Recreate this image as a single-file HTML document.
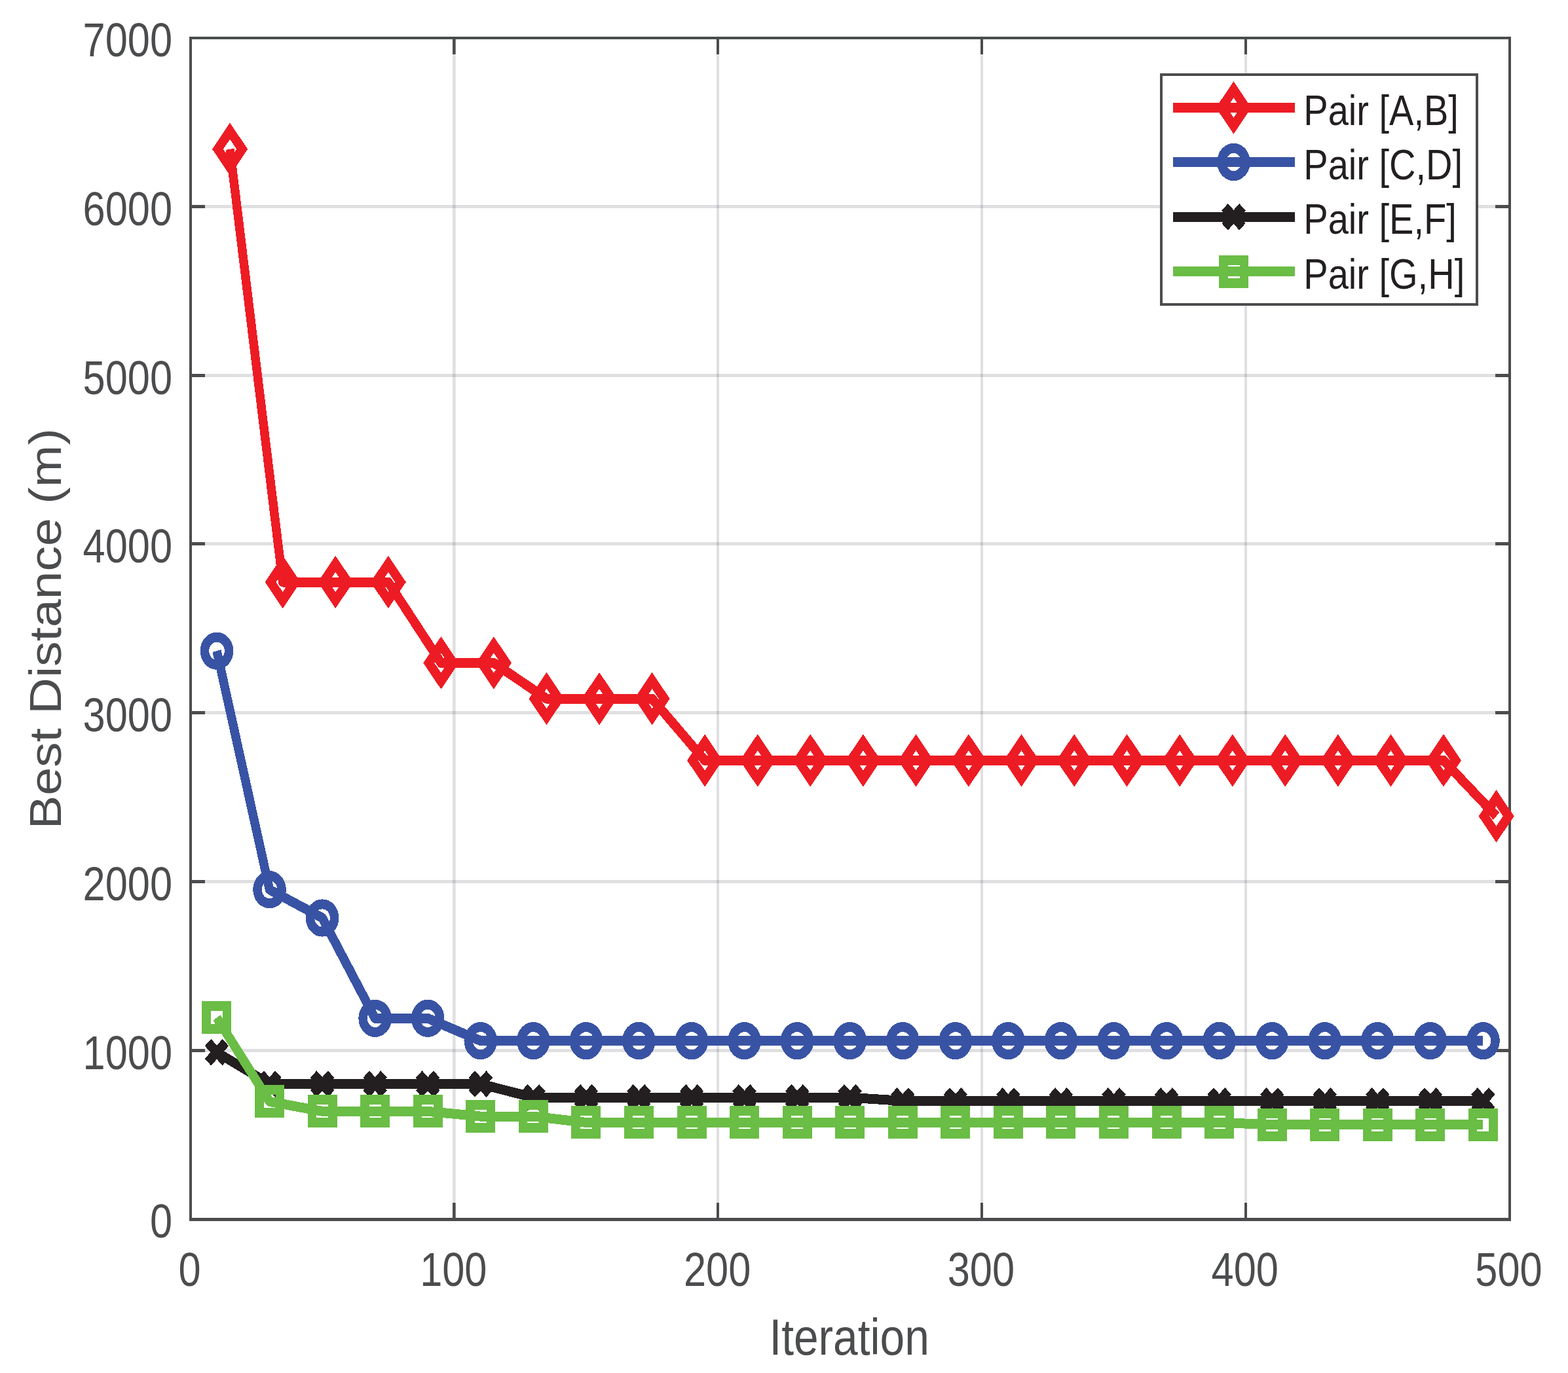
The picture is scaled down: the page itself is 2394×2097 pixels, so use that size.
<!DOCTYPE html>
<html lang="en"><head><meta charset="utf-8"><title>Best Distance vs Iteration</title>
<style>html,body{margin:0;padding:0;background:#fff;}body{width:2394px;height:2097px;overflow:hidden;}svg{display:block;}text{font-family:"Liberation Sans",sans-serif;}</style></head><body>
<svg width="2394" height="2097" viewBox="0 0 2394 2097" role="img" aria-label="Best distance versus iteration for four pairs">
<rect width="2394" height="2097" fill="#fff"/>
<path d="M691 60H695.6V1860H691ZM1094 60H1098V1860H1094ZM1497 60H1501V1860H1497ZM1900 60H1904V1860H1900Z" fill="#4d525c" fill-opacity="0.175"/>
<path d="M293 1602H2303V1606.9H293ZM293 1344H2303V1348.9H293ZM293 1086H2303V1090.9H293ZM293 828H2303V832.9H293ZM293 571H2303V575.9H293ZM293 313H2303V317.9H293Z" fill="#4d525c" fill-opacity="0.175"/>
<path d="M691 1837H695.6V1860H691ZM691 60H695.6V83H691ZM1094 1837H1098V1860H1094ZM1094 60H1098V83H1094ZM1497 1837H1501V1860H1497ZM1497 60H1501V83H1497ZM1900 1837H1904V1860H1900ZM1900 60H1904V83H1900ZM293 1602H313V1606.9H293ZM2283 1602H2303V1606.9H2283ZM293 1344H313V1348.9H293ZM2283 1344H2303V1348.9H2283ZM293 1086H313V1090.9H293ZM2283 1086H2303V1090.9H2283ZM293 828H313V832.9H293ZM2283 828H2303V832.9H2283ZM293 571H313V575.9H293ZM2283 571H2303V575.9H2283ZM293 313H313V317.9H293ZM2283 313H2303V317.9H2283ZM289 56H2307V60H289ZM289 1860H2307V1864.9H289ZM289 56H293V1864.9H289ZM2303 56H2307V1864.9H2303Z" fill="#4b4c4e"/>
<g transform="scale(0.9 1)" fill="none" stroke-width="15" stroke-miterlimit="10" shape-rendering="crispEdges">
<g stroke="#ed1c24"><polyline points="390.13,227.83 479.64,889.01 569.16,889.01 658.67,889.01 748.18,1012.49 837.69,1012.49 927.2,1067.13 1016.71,1067.13 1106.22,1067.13 1195.73,1161.48 1285.24,1161.48 1374.76,1161.48 1464.27,1161.48 1553.78,1161.48 1643.29,1161.48 1732.8,1161.48 1822.31,1161.48 1911.82,1161.48 2001.33,1161.48 2090.84,1161.48 2180.36,1161.48 2269.87,1161.48 2359.38,1161.48 2448.89,1161.48 2538.4,1246.54" stroke-linejoin="round"/><path d="M390.13 200.13L410.83 227.83L390.13 255.53L369.43 227.83ZM479.64 861.31L500.34 889.01L479.64 916.71L458.94 889.01ZM569.16 861.31L589.86 889.01L569.16 916.71L548.46 889.01ZM658.67 861.31L679.37 889.01L658.67 916.71L637.97 889.01ZM748.18 984.79L768.88 1012.49L748.18 1040.19L727.48 1012.49ZM837.69 984.79L858.39 1012.49L837.69 1040.19L816.99 1012.49ZM927.2 1039.43L947.9 1067.13L927.2 1094.83L906.5 1067.13ZM1016.71 1039.43L1037.41 1067.13L1016.71 1094.83L996.01 1067.13ZM1106.22 1039.43L1126.92 1067.13L1106.22 1094.83L1085.52 1067.13ZM1195.73 1133.78L1216.43 1161.48L1195.73 1189.18L1175.03 1161.48ZM1285.24 1133.78L1305.94 1161.48L1285.24 1189.18L1264.54 1161.48ZM1374.76 1133.78L1395.46 1161.48L1374.76 1189.18L1354.06 1161.48ZM1464.27 1133.78L1484.97 1161.48L1464.27 1189.18L1443.57 1161.48ZM1553.78 1133.78L1574.48 1161.48L1553.78 1189.18L1533.08 1161.48ZM1643.29 1133.78L1663.99 1161.48L1643.29 1189.18L1622.59 1161.48ZM1732.8 1133.78L1753.5 1161.48L1732.8 1189.18L1712.1 1161.48ZM1822.31 1133.78L1843.01 1161.48L1822.31 1189.18L1801.61 1161.48ZM1911.82 1133.78L1932.52 1161.48L1911.82 1189.18L1891.12 1161.48ZM2001.33 1133.78L2022.03 1161.48L2001.33 1189.18L1980.63 1161.48ZM2090.84 1133.78L2111.54 1161.48L2090.84 1189.18L2070.14 1161.48ZM2180.36 1133.78L2201.06 1161.48L2180.36 1189.18L2159.66 1161.48ZM2269.87 1133.78L2290.57 1161.48L2269.87 1189.18L2249.17 1161.48ZM2359.38 1133.78L2380.08 1161.48L2359.38 1189.18L2338.68 1161.48ZM2448.89 1133.78L2469.59 1161.48L2448.89 1189.18L2428.19 1161.48ZM2538.4 1218.84L2559.1 1246.54L2538.4 1274.24L2517.7 1246.54Z"/></g>
<g stroke="#3953a4"><polyline points="367.76,994.18 457.27,1358.67 546.78,1401.98 636.29,1555.35 725.8,1555.35 815.31,1589.64 904.82,1589.64 994.33,1589.64 1083.84,1589.64 1173.36,1589.64 1262.87,1589.64 1352.38,1589.64 1441.89,1589.64 1531.4,1589.64 1620.91,1589.64 1710.42,1589.64 1799.93,1589.64 1889.44,1589.64 1978.96,1589.64 2068.47,1589.64 2157.98,1589.64 2247.49,1589.64 2337,1589.64 2426.51,1589.64 2516.02,1589.64" stroke-linejoin="round"/><path d="M347.16 994.18a20.6 21.1 0 1 0 41.2 0a20.6 21.1 0 1 0 -41.2 0ZM436.67 1358.67a20.6 21.1 0 1 0 41.2 0a20.6 21.1 0 1 0 -41.2 0ZM526.18 1401.98a20.6 21.1 0 1 0 41.2 0a20.6 21.1 0 1 0 -41.2 0ZM615.69 1555.35a20.6 21.1 0 1 0 41.2 0a20.6 21.1 0 1 0 -41.2 0ZM705.2 1555.35a20.6 21.1 0 1 0 41.2 0a20.6 21.1 0 1 0 -41.2 0ZM794.71 1589.64a20.6 21.1 0 1 0 41.2 0a20.6 21.1 0 1 0 -41.2 0ZM884.22 1589.64a20.6 21.1 0 1 0 41.2 0a20.6 21.1 0 1 0 -41.2 0ZM973.73 1589.64a20.6 21.1 0 1 0 41.2 0a20.6 21.1 0 1 0 -41.2 0ZM1063.24 1589.64a20.6 21.1 0 1 0 41.2 0a20.6 21.1 0 1 0 -41.2 0ZM1152.76 1589.64a20.6 21.1 0 1 0 41.2 0a20.6 21.1 0 1 0 -41.2 0ZM1242.27 1589.64a20.6 21.1 0 1 0 41.2 0a20.6 21.1 0 1 0 -41.2 0ZM1331.78 1589.64a20.6 21.1 0 1 0 41.2 0a20.6 21.1 0 1 0 -41.2 0ZM1421.29 1589.64a20.6 21.1 0 1 0 41.2 0a20.6 21.1 0 1 0 -41.2 0ZM1510.8 1589.64a20.6 21.1 0 1 0 41.2 0a20.6 21.1 0 1 0 -41.2 0ZM1600.31 1589.64a20.6 21.1 0 1 0 41.2 0a20.6 21.1 0 1 0 -41.2 0ZM1689.82 1589.64a20.6 21.1 0 1 0 41.2 0a20.6 21.1 0 1 0 -41.2 0ZM1779.33 1589.64a20.6 21.1 0 1 0 41.2 0a20.6 21.1 0 1 0 -41.2 0ZM1868.84 1589.64a20.6 21.1 0 1 0 41.2 0a20.6 21.1 0 1 0 -41.2 0ZM1958.36 1589.64a20.6 21.1 0 1 0 41.2 0a20.6 21.1 0 1 0 -41.2 0ZM2047.87 1589.64a20.6 21.1 0 1 0 41.2 0a20.6 21.1 0 1 0 -41.2 0ZM2137.38 1589.64a20.6 21.1 0 1 0 41.2 0a20.6 21.1 0 1 0 -41.2 0ZM2226.89 1589.64a20.6 21.1 0 1 0 41.2 0a20.6 21.1 0 1 0 -41.2 0ZM2316.4 1589.64a20.6 21.1 0 1 0 41.2 0a20.6 21.1 0 1 0 -41.2 0ZM2405.91 1589.64a20.6 21.1 0 1 0 41.2 0a20.6 21.1 0 1 0 -41.2 0ZM2495.42 1589.64a20.6 21.1 0 1 0 41.2 0a20.6 21.1 0 1 0 -41.2 0Z"/></g>
<g stroke="#231f20"><polyline points="367.76,1607.16 457.27,1655.63 546.78,1655.63 636.29,1655.63 725.8,1655.63 815.31,1655.63 904.82,1676.25 994.33,1676.25 1083.84,1676.25 1173.36,1676.25 1262.87,1676.25 1352.38,1676.25 1441.89,1676.25 1531.4,1681.4 1620.91,1681.4 1710.42,1681.4 1799.93,1681.4 1889.44,1681.4 1978.96,1681.4 2068.47,1681.4 2157.98,1681.4 2247.49,1681.4 2337,1681.4 2426.51,1681.4 2516.02,1681.4" stroke-linejoin="round"/><path d="M352.76 1592.16l30 30M352.76 1622.16l30 -30M442.27 1640.63l30 30M442.27 1670.63l30 -30M531.78 1640.63l30 30M531.78 1670.63l30 -30M621.29 1640.63l30 30M621.29 1670.63l30 -30M710.8 1640.63l30 30M710.8 1670.63l30 -30M800.31 1640.63l30 30M800.31 1670.63l30 -30M889.82 1661.25l30 30M889.82 1691.25l30 -30M979.33 1661.25l30 30M979.33 1691.25l30 -30M1068.84 1661.25l30 30M1068.84 1691.25l30 -30M1158.36 1661.25l30 30M1158.36 1691.25l30 -30M1247.87 1661.25l30 30M1247.87 1691.25l30 -30M1337.38 1661.25l30 30M1337.38 1691.25l30 -30M1426.89 1661.25l30 30M1426.89 1691.25l30 -30M1516.4 1666.4l30 30M1516.4 1696.4l30 -30M1605.91 1666.4l30 30M1605.91 1696.4l30 -30M1695.42 1666.4l30 30M1695.42 1696.4l30 -30M1784.93 1666.4l30 30M1784.93 1696.4l30 -30M1874.44 1666.4l30 30M1874.44 1696.4l30 -30M1963.96 1666.4l30 30M1963.96 1696.4l30 -30M2053.47 1666.4l30 30M2053.47 1696.4l30 -30M2142.98 1666.4l30 30M2142.98 1696.4l30 -30M2232.49 1666.4l30 30M2232.49 1696.4l30 -30M2322 1666.4l30 30M2322 1696.4l30 -30M2411.51 1666.4l30 30M2411.51 1696.4l30 -30M2501.02 1666.4l30 30M2501.02 1696.4l30 -30"/></g>
<g stroke="#6abd45"><polyline points="367.76,1554.32 457.27,1682.43 546.78,1697.38 636.29,1697.38 725.8,1697.38 815.31,1705.12 904.82,1705.12 994.33,1714.4 1083.84,1714.4 1173.36,1714.4 1262.87,1714.4 1352.38,1714.4 1441.89,1714.4 1531.4,1714.4 1620.91,1714.4 1710.42,1714.4 1799.93,1714.4 1889.44,1714.4 1978.96,1714.4 2068.47,1714.4 2157.98,1717.75 2247.49,1717.75 2337,1717.75 2426.51,1717.75 2516.02,1717.75" stroke-linejoin="round"/><path d="M350.26 1536.82h35v35h-35ZM439.77 1664.93h35v35h-35ZM529.28 1679.88h35v35h-35ZM618.79 1679.88h35v35h-35ZM708.3 1679.88h35v35h-35ZM797.81 1687.62h35v35h-35ZM887.32 1687.62h35v35h-35ZM976.83 1696.9h35v35h-35ZM1066.34 1696.9h35v35h-35ZM1155.86 1696.9h35v35h-35ZM1245.37 1696.9h35v35h-35ZM1334.88 1696.9h35v35h-35ZM1424.39 1696.9h35v35h-35ZM1513.9 1696.9h35v35h-35ZM1603.41 1696.9h35v35h-35ZM1692.92 1696.9h35v35h-35ZM1782.43 1696.9h35v35h-35ZM1871.94 1696.9h35v35h-35ZM1961.46 1696.9h35v35h-35ZM2050.97 1696.9h35v35h-35ZM2140.48 1700.25h35v35h-35ZM2229.99 1700.25h35v35h-35ZM2319.5 1700.25h35v35h-35ZM2409.01 1700.25h35v35h-35ZM2498.52 1700.25h35v35h-35Z"/></g>
</g>
<text x="289.5" y="1963.6" font-size="72" text-anchor="middle" fill="#4b4c4e" textLength="34.1" lengthAdjust="spacingAndGlyphs">0</text>
<text x="692.3" y="1963.6" font-size="72" text-anchor="middle" fill="#4b4c4e" textLength="102.3" lengthAdjust="spacingAndGlyphs">100</text>
<text x="1095.1" y="1963.6" font-size="72" text-anchor="middle" fill="#4b4c4e" textLength="102.3" lengthAdjust="spacingAndGlyphs">200</text>
<text x="1497.9" y="1963.6" font-size="72" text-anchor="middle" fill="#4b4c4e" textLength="102.3" lengthAdjust="spacingAndGlyphs">300</text>
<text x="1900.7" y="1963.6" font-size="72" text-anchor="middle" fill="#4b4c4e" textLength="102.3" lengthAdjust="spacingAndGlyphs">400</text>
<text x="2303.5" y="1963.6" font-size="72" text-anchor="middle" fill="#4b4c4e" textLength="102.3" lengthAdjust="spacingAndGlyphs">500</text>
<text x="263" y="1890.4" font-size="72" text-anchor="end" fill="#4b4c4e" textLength="34.1" lengthAdjust="spacingAndGlyphs">0</text>
<text x="263" y="1632.63" font-size="72" text-anchor="end" fill="#4b4c4e" textLength="136.4" lengthAdjust="spacingAndGlyphs">1000</text>
<text x="263" y="1374.86" font-size="72" text-anchor="end" fill="#4b4c4e" textLength="136.4" lengthAdjust="spacingAndGlyphs">2000</text>
<text x="263" y="1117.09" font-size="72" text-anchor="end" fill="#4b4c4e" textLength="136.4" lengthAdjust="spacingAndGlyphs">3000</text>
<text x="263" y="859.31" font-size="72" text-anchor="end" fill="#4b4c4e" textLength="136.4" lengthAdjust="spacingAndGlyphs">4000</text>
<text x="263" y="601.54" font-size="72" text-anchor="end" fill="#4b4c4e" textLength="136.4" lengthAdjust="spacingAndGlyphs">5000</text>
<text x="263" y="343.77" font-size="72" text-anchor="end" fill="#4b4c4e" textLength="136.4" lengthAdjust="spacingAndGlyphs">6000</text>
<text x="263" y="86" font-size="72" text-anchor="end" fill="#4b4c4e" textLength="136.4" lengthAdjust="spacingAndGlyphs">7000</text>
<text x="1296.6" y="2068.7" font-size="78.5" text-anchor="middle" fill="#4b4c4e" textLength="244.3" lengthAdjust="spacingAndGlyphs">Iteration</text>
<text transform="translate(93 960.2) rotate(-90) scale(1 0.89)" font-size="77" text-anchor="middle" fill="#4b4c4e" textLength="612" lengthAdjust="spacingAndGlyphs">Best Distance (m)</text>
<rect x="1773" y="114" width="482" height="351" stroke="#4b4c4e" stroke-width="4" fill="#fff"/>
<g transform="scale(0.9 1)" fill="none" stroke-width="15" stroke-miterlimit="10" shape-rendering="crispEdges">
<path d="M1990 164.5H2196.67M2092.78 136.8L2113.48 164.5L2092.78 192.2L2072.08 164.5Z" stroke="#ed1c24"/>
<path d="M1990 247.5H2196.67M2072.18 247.5a20.6 21.1 0 1 0 41.2 0a20.6 21.1 0 1 0 -41.2 0Z" stroke="#3953a4"/>
<path d="M1990 331.3H2196.67M2077.78 316.3l30 30M2077.78 346.3l30 -30" stroke="#231f20"/>
<path d="M1990 414.5H2196.67M2075.28 397h35v35h-35Z" stroke="#6abd45"/>
</g>
<text x="1990.3" y="190.8" font-size="64.5" text-anchor="start" fill="#231f20" textLength="236.6" lengthAdjust="spacingAndGlyphs">Pair [A,B]</text>
<text x="1990.3" y="273.9" font-size="64.5" text-anchor="start" fill="#231f20" textLength="242.7" lengthAdjust="spacingAndGlyphs">Pair [C,D]</text>
<text x="1990.3" y="356.9" font-size="64.5" text-anchor="start" fill="#231f20" textLength="233.6" lengthAdjust="spacingAndGlyphs">Pair [E,F]</text>
<text x="1990.3" y="440.5" font-size="64.5" text-anchor="start" fill="#231f20" textLength="245.9" lengthAdjust="spacingAndGlyphs">Pair [G,H]</text>
</svg></body></html>
